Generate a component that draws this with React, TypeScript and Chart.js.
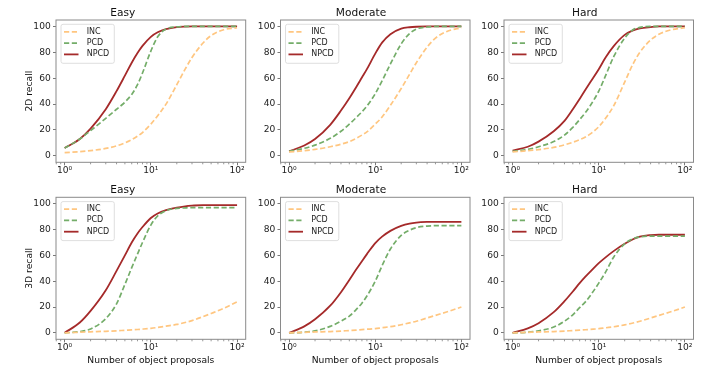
import React, { useEffect, useRef } from 'react';
import { Chart, registerables } from 'chart.js';

Chart.register(...registerables);

// ---------------- data ----------------
const proposals = [1, 1.5, 2, 3, 4, 5, 6, 7, 8, 10, 12, 15, 20, 25, 30, 40, 50, 70, 100];
const seriesNames = ['INC', 'PCD', 'NPCD'];
const difficulties = ['Easy', 'Moderate', 'Hard'];
const rowLabels = ['2D recall', '3D recall'];
const xAxisLabel = 'Number of object proposals';
const xMajorTicks = [1, 10, 100];
const xMajorLabels = ['10⁰', '10¹', '10²'];
const xMinorTicks = [0.8, 0.9, 2, 3, 4, 5, 6, 7, 8, 9, 20, 30, 40, 50, 60, 70, 80, 90];
const yTicks = [0, 20, 40, 60, 80, 100];

const inc2dEasy = [2.5, 3.2, 4, 5.7, 7.7, 10, 12.5, 15.2, 18, 24.5, 31, 40, 55, 67, 76, 87, 93, 97.5, 99];
const pcd2dEasy = [6, 13, 19.5, 29, 36, 41.5, 47.5, 55, 64, 81, 92, 98, 99.7, 100, 100, 100, 100, 100, 100];
const npcd2dEasy = [6, 13, 21, 36, 50, 62, 72, 79.5, 85, 92, 95.5, 98, 99.5, 99.9, 100, 100, 100, 100, 100];

const inc2dModerate = [3, 4, 5, 7, 9, 11, 13.5, 16, 18.5, 24.5, 30, 39, 52, 63, 72, 84, 91, 96.5, 99];
const pcd2dModerate = [3.5, 5.8, 8.3, 13.5, 19, 24.5, 29.5, 34, 38.5, 48, 58, 71, 86.5, 94.5, 98, 99.6, 100, 100, 100];
const npcd2dModerate = [3.5, 8, 13, 24, 35, 44.5, 53, 60.5, 67, 79, 87.5, 94, 98.3, 99.4, 99.8, 100, 100, 100, 100];

const inc2dHard = [3, 4, 4.8, 6.5, 8.5, 10.5, 12.5, 14.5, 17, 22.5, 29, 39, 57, 71, 80, 89.5, 94, 97.5, 99];
const pcd2dHard = [3.5, 5, 7, 11, 16, 22, 28, 33.5, 39, 50, 62, 77, 91, 97.5, 99.3, 100, 100, 100, 100];
const npcd2dHard = [4, 7, 11, 19, 27, 36, 44, 51, 57, 67, 76, 85, 93.5, 97, 98.5, 99.5, 100, 100, 100];

const inc3dEasy = [0, 0.5, 0.8, 1.2, 1.6, 2, 2.3, 2.6, 2.9, 3.5, 4.2, 5.2, 6.5, 8, 9.5, 12.5, 15, 19, 24];
const pcd3dEasy = [0, 1, 3, 11, 22.5, 37.5, 50.5, 61, 70, 83.5, 90.5, 94.7, 96.4, 96.8, 97, 97, 97, 97, 97];
const npcd3dEasy = [0, 8, 17, 33, 48, 60, 70, 77, 82, 89, 92.5, 95, 97, 98, 98.5, 99, 99, 99, 99];

const inc3dModerate = [0, 0.4, 0.7, 1, 1.4, 1.8, 2.1, 2.5, 2.8, 3.3, 4, 4.8, 6.3, 7.7, 9, 11.5, 13.5, 16.5, 20];
const pcd3dModerate = [0, 0.5, 1.5, 5, 9, 13, 18, 23, 28.5, 40, 52, 65, 75.5, 79.5, 81.5, 82.7, 83, 83, 83];
const npcd3dModerate = [0, 5, 10.5, 21, 31.5, 41, 49, 55.5, 61, 69.5, 74.5, 79, 82.8, 84.6, 85.4, 85.9, 86, 86, 86];

const inc3dHard = [0, 0.4, 0.7, 1, 1.4, 1.8, 2.1, 2.4, 2.7, 3.2, 3.9, 4.7, 6.2, 7.6, 9, 11.5, 13.5, 16.5, 20];
const pcd3dHard = [0, 0.5, 1.5, 4.5, 9, 14, 19.5, 24, 29, 38.5, 47, 59, 69, 73, 74.3, 75, 75, 75, 75];
const npcd3dHard = [0, 3.5, 7.5, 16, 24.5, 32, 38.5, 43.5, 47.5, 54, 58.5, 63.5, 69, 72.5, 74.5, 75.7, 76, 76, 76];

const panelSeries = [
  [
    [inc2dEasy, pcd2dEasy, npcd2dEasy],
    [inc2dModerate, pcd2dModerate, npcd2dModerate],
    [inc2dHard, pcd2dHard, npcd2dHard],
  ],
  [
    [inc3dEasy, pcd3dEasy, npcd3dEasy],
    [inc3dModerate, pcd3dModerate, npcd3dModerate],
    [inc3dHard, pcd3dHard, npcd3dHard],
  ],
];

// ---------------- styles / layout ----------------
const FONT = "'DejaVu Sans', sans-serif";
const seriesColors = ['#ffc680', '#74ad69', '#a52a2a'];
const seriesDash = [[5.2, 2.6], [5.2, 2.6], []];
const seriesWidth = [1.7, 1.7, 1.8];
const FRAME_COLOR = '#8a8a8a';
const TICK_COLOR = '#6a6a6a';

const colBox = [
  { left: 56, right: 245.7 },
  { left: 280.5, right: 470 },
  { left: 504, right: 693.5 },
];
const rowBox = [
  { top: 20, bottom: 162.3 },
  { top: 197.3, bottom: 339.3 },
];
const colCanvas = [
  { x: 0, w: 252 },
  { x: 252, w: 224 },
  { x: 476, w: 244 },
];
const rowCanvas = [
  { y: 0, h: 178 },
  { y: 178, h: 195 },
];
const titleCenterY = [13, 190];
const TITLE_SIZE = 10.6;
const TICK_SIZE = 9.1;
const LABEL_SIZE = 9.2;

const decorPlugin = {
  id: 'decor',
  afterDatasetsDraw(chart: any) {
    const { ctx, chartArea: a, scales } = chart;
    ctx.save();
    // minor ticks on the log axis
    const xs = scales.x;
    ctx.strokeStyle = TICK_COLOR;
    ctx.lineWidth = 0.7;
    for (const v of xMinorTicks) {
      const px = xs.getPixelForValue(v);
      if (px < a.left || px > a.right) continue;
      ctx.beginPath();
      ctx.moveTo(px, a.bottom);
      ctx.lineTo(px, a.bottom + 2);
      ctx.stroke();
    }
    // legend
    const lx = a.left + 5;
    const ly = a.top + 4.3;
    ctx.beginPath();
    ctx.roundRect(lx, ly, 53.3, 39, 2);
    ctx.fillStyle = 'rgba(255,255,255,0.85)';
    ctx.fill();
    ctx.strokeStyle = '#d6d6d6';
    ctx.lineWidth = 0.8;
    ctx.stroke();
    ctx.font = `8px ${FONT}`;
    ctx.textBaseline = 'middle';
    ctx.textAlign = 'left';
    chart.data.datasets.forEach((ds: any, i: number) => {
      const y = ly + 7.5 + i * 11.3;
      ctx.setLineDash(ds.borderDash || []);
      ctx.strokeStyle = ds.borderColor;
      ctx.lineWidth = ds.borderWidth;
      ctx.beginPath();
      ctx.moveTo(a.left + 8, y);
      ctx.lineTo(a.left + 22.5, y);
      ctx.stroke();
      ctx.setLineDash([]);
      ctx.fillStyle = '#222';
      ctx.fillText(ds.label, a.left + 30.7, y);
    });
    // frame
    ctx.strokeStyle = FRAME_COLOR;
    ctx.lineWidth = 1;
    ctx.strokeRect(a.left, a.top, a.right - a.left, a.bottom - a.top);
    ctx.restore();
  },
};

function Panel({ row, col }: { row: number; col: number }) {
  const ref = useRef<HTMLCanvasElement>(null);
  const cv = colCanvas[col];
  const rv = rowCanvas[row];
  const cb = colBox[col];
  const rb = rowBox[row];
  const L = cb.left - cv.x;
  const R = cv.x + cv.w - cb.right;
  const T = rb.top - rv.y;
  const B = rv.y + rv.h - rb.bottom;

  useEffect(() => {
    const lh = TITLE_SIZE * 1.2;
    const pT = titleCenterY[row] - rv.y - lh / 2;
    const pB = T - pT - lh;
    const series = panelSeries[row][col];
    const tickFont = { family: FONT, size: TICK_SIZE };
    const chart = new Chart(ref.current as HTMLCanvasElement, {
      type: 'line',
      data: {
        datasets: series.map((vals, i) => ({
          label: seriesNames[i],
          data: proposals.map((x, j) => ({ x, y: vals[j] })),
          borderColor: seriesColors[i],
          backgroundColor: seriesColors[i],
          borderWidth: seriesWidth[i],
          borderDash: seriesDash[i],
          pointRadius: 0,
          fill: false,
          cubicInterpolationMode: 'monotone',
        })),
      },
      options: {
        animation: false,
        responsive: false,
        maintainAspectRatio: false,
        devicePixelRatio: 1,
        events: [],
        layout: { padding: { left: 0, right: R, top: 0, bottom: 0 } },
        plugins: {
          legend: { display: false },
          tooltip: { enabled: false },
          title: {
            display: true,
            text: difficulties[col],
            color: '#111',
            font: { family: FONT, size: TITLE_SIZE, weight: 'normal', lineHeight: 1.2 },
            padding: { top: pT, bottom: pB },
          },
        },
        scales: {
          x: {
            type: 'logarithmic',
            min: Math.pow(10, -0.1),
            max: Math.pow(10, 2.1),
            afterBuildTicks: (s: any) => {
              s.ticks = xMajorTicks.map((v) => ({ value: v, major: true }));
            },
            afterFit: (s: any) => {
              s.height = B;
            },
            ticks: {
              autoSkip: false,
              maxRotation: 0,
              minRotation: 0,
              padding: 0,
              color: '#222',
              font: tickFont,
              callback: (v: any) => {
                const k = xMajorTicks.indexOf(Number(v));
                return k >= 0 ? xMajorLabels[k] : '';
              },
            },
            grid: {
              display: true,
              drawOnChartArea: false,
              drawTicks: true,
              tickLength: 3,
              tickColor: TICK_COLOR,
              tickWidth: 0.9,
            },
            border: { display: false },
            title: {
              display: row === 1,
              text: xAxisLabel,
              color: '#111',
              font: { family: FONT, size: LABEL_SIZE, lineHeight: 1.2 },
              padding: { top: 0, bottom: 6.5 },
            },
          },
          y: {
            type: 'linear',
            min: -5,
            max: 105,
            afterBuildTicks: (s: any) => {
              s.ticks = yTicks.map((v) => ({ value: v }));
            },
            afterFit: (s: any) => {
              s.width = L;
            },
            ticks: {
              padding: 2.3,
              color: '#222',
              font: tickFont,
              callback: (v: any) => String(v),
            },
            grid: {
              display: true,
              drawOnChartArea: false,
              drawTicks: true,
              tickLength: 3,
              tickColor: TICK_COLOR,
              tickWidth: 0.9,
            },
            border: { display: false },
            title: {
              display: col === 0,
              text: rowLabels[row],
              color: '#111',
              font: { family: FONT, size: LABEL_SIZE, lineHeight: 1.2 },
              padding: { top: 30 - LABEL_SIZE * 0.6, bottom: 0 },
            },
          },
        },
      } as any,
      plugins: [decorPlugin],
    });
    return () => chart.destroy();
  }, []);

  return (
    <canvas
      ref={ref}
      width={cv.w}
      height={rv.h}
      style={{ position: 'absolute', left: cv.x, top: rv.y, width: cv.w, height: rv.h }}
    />
  );
}

export default function App() {
  const cells: JSX.Element[] = [];
  for (let r = 0; r < 2; r++) {
    for (let c = 0; c < 3; c++) {
      cells.push(<Panel key={`${r}-${c}`} row={r} col={c} />);
    }
  }
  return (
    <div
      style={{
        position: 'absolute',
        left: 0,
        top: 0,
        width: 720,
        height: 373,
        background: '#ffffff',
        overflow: 'hidden',
      }}
    >
      {cells}
    </div>
  );
}
